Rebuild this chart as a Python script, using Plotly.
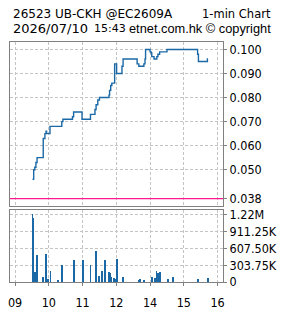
import plotly.graph_objects as go

# ---- data ----
price_t = [31, 33, 35, 37, 39, 50, 53, 55, 56, 62, 83, 85, 102, 104, 119, 134, 142, 144,
           147, 150, 167, 168, 170, 172, 177, 180.5, 190, 192, 217, 220, 229, 231, 232,
           240, 242, 243, 247, 252, 254, 257, 270, 324.5, 326, 342, 343]
price_v = [0.046, 0.050, 0.051, 0.053, 0.055, 0.063, 0.065, 0.066, 0.065, 0.068, 0.070,
           0.071, 0.072, 0.074, 0.071, 0.073, 0.075, 0.077, 0.079, 0.080, 0.081, 0.083,
           0.085, 0.086, 0.094, 0.090, 0.093, 0.096, 0.094, 0.093, 0.094, 0.096, 0.100,
           0.099, 0.0985, 0.097, 0.096, 0.097, 0.098, 0.099, 0.100, 0.098, 0.095, 0.096, 0.096]

vol_t = [31, 32.5, 36, 39.5, 50, 55, 58, 63, 77, 84, 105, 120, 134, 144, 149, 154, 159.5,
         167, 168.6, 170.3, 176, 180, 181, 192, 220, 221.8, 229.7, 243.4, 248.6, 251.5,
         253.7, 257.2, 272.6, 281, 325.7, 343]
vol_v = [1215000, 1153000, 174000, 478000, 90000, 495000, 40000, 197000, 11000, 293000,
         394000, 394000, 293000, 546000, 107000, 191000, 394000, 163000, 146000, 90000,
         62000, 50000, 410000, 90000, 11000, 40000, 11000, 73000, 62000, 191000, 146000,
         174000, 40000, 73000, 40000, 56000]

prev_close = 0.038

hour_ticks = [0, 60, 120, 180, 240, 300, 360]
hour_labels = ["09", "10", "11", "12", "14", "15", "16"]

price_ticks = [0.038, 0.050, 0.060, 0.070, 0.080, 0.090, 0.100]
price_labels = ["0.038", "0.050", "0.060", "0.070", "0.080", "0.090", "0.100"]

vol_ticks = [0, 303750, 607500, 911250, 1215000]
vol_labels = ["0", "303.75K", "607.50K", "911.25K", "1.22M"]

title_left = "26523 UB-CKH @EC2609A"
title_right = "1-min Chart"
stamp_date = "2026/07/10"
stamp_time = "15:43"
stamp_right = "etnet.com.hk © copyright"

# ---- style ----
BLUE = "#1a68a6"
PINK = "#ff1a8c"
FRAME = "#808080"
GRID = "#c4c4c4"
TICKFONT = dict(family="Liberation Sans Narrow, DejaVu Sans Condensed, sans-serif", size=12.5, color="#000")

W, H = 285, 318
ML, MR, MT, MB = 8, 56, 42, 21
PW, PH = W - ML - MR, H - MT - MB


def px(xp):
    return (xp - ML) / PW


def py(yp):
    return (H - MB - yp) / PH


fig = go.Figure()
fig.add_trace(go.Scatter(x=price_t, y=price_v, mode="lines", line_shape="hv",
                         line=dict(color=BLUE, width=1.4), xaxis="x", yaxis="y",
                         hoverinfo="skip"))
fig.add_trace(go.Bar(x=vol_t, y=vol_v, width=1.5, marker=dict(color=BLUE, line_width=0),
                     xaxis="x2", yaxis="y2", hoverinfo="skip"))

fig.add_shape(type="line", xref="x domain", yref="y", x0=0, x1=1, y0=prev_close, y1=prev_close,
              line=dict(color=PINK, width=1.3), layer="above")

xr = [-9.1, 369.7]
common_x = dict(range=xr, tickvals=hour_ticks, showgrid=True, gridcolor=GRID, griddash="3px,2px",
                gridwidth=1, showline=True, mirror=True, linecolor=FRAME, linewidth=1,
                zeroline=False, fixedrange=True)
common_y = dict(side="right", showgrid=True, gridcolor=GRID, griddash="3px,2px", gridwidth=1,
                showline=True, mirror=True, linecolor=FRAME, linewidth=1, zeroline=False,
                ticks="outside", ticklen=3, tickcolor=FRAME, tickfont=TICKFONT, fixedrange=True)

vol_top = py(221)
price_bot = py(216)

fig.update_layout(
    width=W, height=H, margin=dict(l=ML, r=MR, t=MT, b=MB, pad=0),
    paper_bgcolor="white", plot_bgcolor="white", showlegend=False, bargap=0,
    xaxis=dict(domain=[0, 1], anchor="y", showticklabels=False, ticks="", **common_x),
    yaxis=dict(domain=[price_bot, 1], anchor="x", range=[0.0350, 0.1031],
               tickvals=price_ticks, ticktext=price_labels, **common_y),
    xaxis2=dict(domain=[0, 1], anchor="y2", showticklabels=True, ticktext=hour_labels,
                ticks="outside", ticklen=3, tickcolor=FRAME, tickfont=TICKFONT,
                ticklabelstandoff=6, **common_x),
    yaxis2=dict(domain=[0, vol_top], anchor="x2", range=[0, 1290000],
                tickvals=vol_ticks, ticktext=vol_labels, **common_y),
)

ann_font = dict(family="DejaVu Sans, sans-serif", size=12, color="#000")
fig.add_annotation(x=px(9), y=py(12.5), xref="paper", yref="paper", text=title_left,
                   showarrow=False, xanchor="left", yanchor="middle", font=ann_font)
fig.add_annotation(x=px(281), y=py(12.5), xref="paper", yref="paper", text=title_right,
                   showarrow=False, xanchor="right", yanchor="middle",
                   font=dict(family="DejaVu Sans, sans-serif", size=11.5, color="#000"))
fig.add_annotation(x=px(9), y=py(28), xref="paper", yref="paper", text=stamp_date,
                   showarrow=False, xanchor="left", yanchor="middle",
                   font=dict(family="DejaVu Sans, sans-serif", size=13, color="#000"))
fig.add_annotation(x=px(93), y=py(28), xref="paper", yref="paper", text=stamp_time,
                   showarrow=False, xanchor="left", yanchor="middle",
                   font=dict(family="DejaVu Sans, sans-serif", size=11, color="#000"))
fig.add_annotation(x=px(281), y=py(28), xref="paper", yref="paper", text=stamp_right,
                   showarrow=False, xanchor="right", yanchor="middle",
                   font=dict(family="Liberation Sans, Arial, sans-serif", size=12.8, color="#000"))

fig.write_html("out.html", config={"displayModeBar": False})
